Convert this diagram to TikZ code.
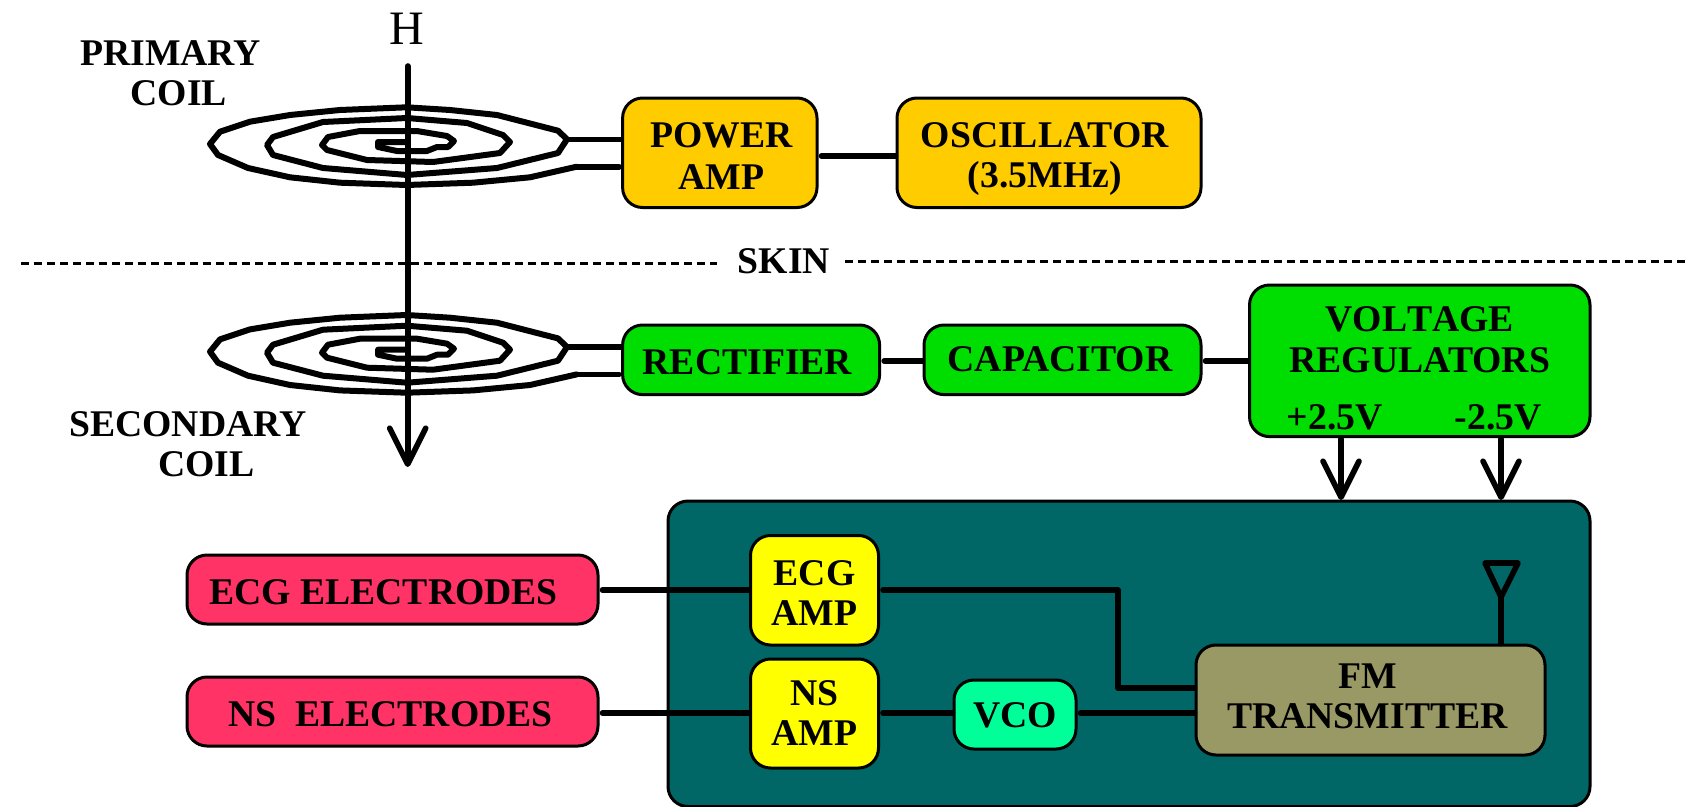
\documentclass[tikz,border=0pt]{standalone}
\usepackage{fontspec}
\setmainfont{Liberation Serif}
\usetikzlibrary{arrows.meta,calc}
\definecolor{ampc}{HTML}{FFCC00}
\definecolor{grn}{HTML}{00DD00}
\definecolor{tealc}{HTML}{006666}
\definecolor{redc}{HTML}{FF3366}
\definecolor{yelc}{HTML}{FFFF00}
\definecolor{vcoc}{HTML}{00FF99}
\definecolor{fmc}{HTML}{999966}
\tikzset{
  box/.style={draw=black,line width=3pt,rounded corners=20pt,inner sep=0pt},
  boxtext/.style={inner sep=0pt,align=center,font=\fontsize{37.7}{40}\selectfont\bfseries},
  wire/.style={line width=5.6pt,line join=round,line cap=round},
  gapwire/.style={wire,shorten <=3pt},
  barb/.style={wire,-{Straight Barb[length=36pt,width=36pt,line width=5.6pt,round]}},
  lab/.style={inner sep=0pt,align=left,font=\fontsize{37.7}{40}\selectfont\bfseries},
  coil/.style={line width=6pt,line join=round,line cap=round},
  dashline/.style={line width=3pt,dash pattern=on 7.5pt off 5.5pt},
}
\newcommand{\bx}[9]{% name, x0,y0,x1,y1, colour, dx, dy, text
  \node[box,fill=#6,minimum width={#4-#2},minimum height={#5-#3},
    label={[boxtext,xshift=#7pt,yshift=-#8pt]center:{#9}}] (#1) at ({(#2+#4)/2},{(#3+#5)/2}) {};}
\newcommand{\coilpath}[1]{%
  \begin{scope}[yshift=#1]
  \draw[coil] (576.7,166.7) -- (530,177.3) -- (473,182.7) -- (406.7,185) -- (340,182.7) -- (290,177.3) -- (248,168) -- (218,155) -- (210,144) -- (220,131.7) -- (250,121.7) -- (290,115)
   -- (340,110) -- (406.7,107.3) -- (450,110) -- (497,115) -- (558,130.7) -- (567,139.3) -- (558,153) -- (497,168) -- (407,175)
   -- (323,168) -- (273,155) -- (267,145) -- (273,137) -- (323,122) -- (407,118) -- (467,123) -- (503,135)
   -- (510,142) -- (500,153) -- (433,162) -- (367,160) -- (327,150) -- (322,145) -- (328,137) -- (360,131)
   -- (417,131) -- (447,136) -- (454,141) -- (448,147) -- (437,147) -- (427,151) -- (397,151) -- (378,147)
   -- (378,142) -- (407,142);
  \end{scope}}
\begin{document}
\begin{tikzpicture}[x=1pt,y=-1pt]
\useasboundingbox (0,0) rectangle (1686,806);
% teal housing
\bx{housing}{668}{501}{1590}{806.5}{tealc}{0}{0}{}
% coils
\coilpath{0pt}
\coilpath{-207.7pt}
% boxes
\bx{pamp}{622.6}{98}{817}{207.5}{ampc}{1.5}{3.3}{POWER\\[2pt]AMP}
\bx{osc}{897}{98}{1201}{207.5}{ampc}{-4.3}{5.8}{OSCILLATOR\\(3.5MHz)}
\bx{rect}{622.6}{325}{879.6}{394.6}{grn}{-3.7}{2.5}{RECTIFIER}
\bx{cap}{924}{325}{1201}{394.6}{grn}{-2.5}{-1}{CAPACITOR}
\bx{vr}{1249.5}{285}{1590}{436.6}{grn}{0}{7.5}{{\addfontfeatures{Kerning=Off}VOLTAGE}\\[1pt]REGULATORS\\[17pt]+2.5V\hspace{72pt}-2.5V\rule{10.8pt}{0pt}}
\bx{ecgel}{187}{555}{598}{624}{redc}{-9}{2.2}{ECG ELECTRODES}
\bx{nsel}{187}{677}{598}{746}{redc}{-2}{2.2}{NS\ \ ELECTRODES}
\bx{ecgamp}{750.5}{535.5}{878.5}{645}{yelc}{0}{3}{ECG\\AMP}
\bx{nsamp}{750.5}{659}{878.5}{768}{yelc}{0}{-0.5}{NS\\AMP}
\bx{vco}{954}{680}{1076}{749}{vcoc}{0}{1}{VCO}
\bx{fm}{1196}{645}{1545}{755}{fmc}{-3}{-3.7}{FM\\TRANSMITTER}
% free-end coordinates
\coordinate (htop) at (407.7,66);
\coordinate (hbot) at (407.7,467);
\coordinate (ant) at (1501,597);
\coordinate (c1a) at (567,139.3);
\coordinate (c1b) at (576.7,166.7);
\coordinate (c2a) at (567,347);
\coordinate (c2b) at (576.7,374.4);
% labels
\node[inner sep=0pt,font=\fontsize{48}{50}\selectfont] (hlab) at (407,29) {H};
\node[lab,anchor=west] (prim) at (80,73) {PRIMARY\\\hspace{50.5pt}COIL};
\node[lab,anchor=west] (sec) at (69,444) {SECONDARY\\\hspace{89pt}COIL};
\node[lab] (skin) at (784,261) {SKIN};
% dashed line
\coordinate (dl) at (21,263);
\coordinate (dr) at (1686,261.3);
\draw[dashline] (dl) -- (717,263);
\draw[dashline] (845,261.3) -- (dr);
% field arrow
\draw[barb] (htop) -- (hbot);
% connectors
\draw[wire] (c1a) -- (c1a -| pamp.west);
\draw[wire,shorten >=2pt] (c1b) -- (c1b -| pamp.west);
\draw[wire] (c2a) -- (c2a -| rect.west);
\draw[wire,shorten >=2pt] (c2b) -- (c2b -| rect.west);
\draw[gapwire] (pamp.east |- 0,156) -- (osc.west |- 0,156);
\draw[gapwire] (rect.east |- 0,361) -- (cap.west |- 0,361);
\draw[gapwire] (cap.east |- 0,361) -- (vr.west |- 0,361);
\draw[barb] (1341,439) -- (1341,500);
\draw[barb] (1501,439) -- (1501,500);
\draw[gapwire] (ecgel.east |- 0,590) -- (ecgamp.west |- 0,590);
\draw[gapwire] (nsel.east |- 0,713) -- (nsamp.west |- 0,713);
\draw[gapwire] (nsamp.east |- 0,713) -- (vco.west |- 0,713);
\draw[gapwire] (vco.east |- 0,713) -- (fm.west |- 0,713);
\draw[gapwire] (ecgamp.east |- 0,590) -- (1118,590) -- (1118,688) -- (fm.west |- 0,688);
% antenna
\draw[wire] (fm.north -| ant) -- (ant);
\draw[wire] (ant) -- (1485,563) -- (1518,563) -- cycle;
\end{tikzpicture}
\end{document}
